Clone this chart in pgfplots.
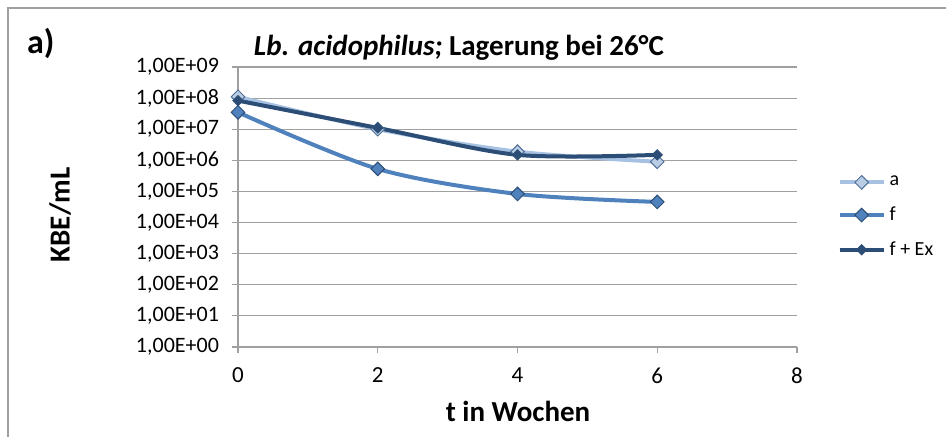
\documentclass[border=0pt]{standalone}
\usepackage{pgfplots}
\pgfplotsset{compat=1.18}
\usepackage{fontspec}
\setmainfont{Carlito}
\definecolor{ca}{RGB}{166,193,225}
\definecolor{caf}{RGB}{185,205,229}
\definecolor{caedge}{RGB}{79,110,150}
\definecolor{cf}{RGB}{79,129,189}
\definecolor{cfedge}{RGB}{44,77,117}
\definecolor{cx}{RGB}{44,77,117}
\definecolor{gridc}{RGB}{160,160,160}
\begin{document}
\begin{tikzpicture}
\useasboundingbox (0pt,0pt) rectangle (473pt,218.5pt);
\draw[gridc, line width=0.8pt] (4pt,0pt) -- (4pt,214.5pt) -- (473pt,214.5pt);
\node[anchor=west, font=\fontsize{17}{19}\selectfont\bfseries] at (10pt,197pt) {a)};
\node[font=\fontsize{14.5}{16}\selectfont\bfseries] at (229.5pt,194.5pt) {\textit{Lb. acidophilus;} Lagerung bei 26°C};
\node[rotate=90, font=\fontsize{14.5}{16}\selectfont\bfseries] at (30pt,111pt) {KBE/mL};
\node[font=\fontsize{14.5}{16}\selectfont\bfseries] at (259pt,13pt) {t in Wochen};
\begin{axis}[
  at={(119pt,45pt)}, anchor=south west,
  scale only axis, width=279.5pt, height=140pt,
  ymode=log, log basis y=10,
  xmin=0, xmax=8, ymin=1, ymax=1e9,
  xtick={0,2,4,6,8},
  ytick={1,10,100,1000,10000,100000,1000000,10000000,100000000,1000000000},
  yticklabels={{1,00E+00},{1,00E+01},{1,00E+02},{1,00E+03},{1,00E+04},{1,00E+05},{1,00E+06},{1,00E+07},{1,00E+08},{1,00E+09}},
  xticklabel style={font=\fontsize{11.5}{12}\selectfont, yshift=-4pt},
  yticklabel style={font=\fontsize{11}{12}\selectfont, xshift=-3pt},
  /pgf/number format/assume math mode=true,
  axis x line*=bottom, axis y line*=left,
  axis line style={gridc, line width=0.6pt, -},
  tick style={gridc, line width=0.6pt},
  tick align=outside, major tick length=3pt,
  minor y tick num=0, yminorgrids=false,
  ymajorgrids, major grid style={gridc, line width=0.6pt},
  legend style={at={(1.072,0.464)}, anchor=west, draw=none, fill=none,
    font=\fontsize{10}{11}\selectfont, row sep=5pt, inner xsep=0pt},
  legend cell align=left,
  legend image code/.code={\draw[#1] (0pt,0pt) -- (22pt,0pt); \draw[#1, mark repeat=2, mark phase=2] plot coordinates {(0pt,0pt) (11pt,0pt) (22pt,0pt)};},
]
\addplot[ca, line width=2pt, smooth, mark=square*, mark size=2.4pt,
  mark options={rotate=45, fill=caf, draw=caedge, line width=0.5pt}]
  coordinates {(0,1.1e8) (2,1.0e7) (4,1.9e6) (6,9.0e5)};
\addlegendentry{a}
\addplot[cf, line width=2pt, smooth, mark=square*, mark size=2.4pt,
  mark options={rotate=45, fill=cf, draw=cfedge, line width=0.5pt}]
  coordinates {(0,3.5e7) (2,5.3e5) (4,8.3e4) (6,4.6e4)};
\addlegendentry{f}
\addplot[cx, line width=2pt, smooth, mark=square*, mark size=1.8pt,
  mark options={rotate=45, fill=cx, draw=cx, line width=0.5pt}]
  coordinates {(0,8.3e7) (2,1.1e7) (4,1.5e6) (6,1.5e6)};
\addlegendentry{f + Ex}
\end{axis}
\end{tikzpicture}
\end{document}
